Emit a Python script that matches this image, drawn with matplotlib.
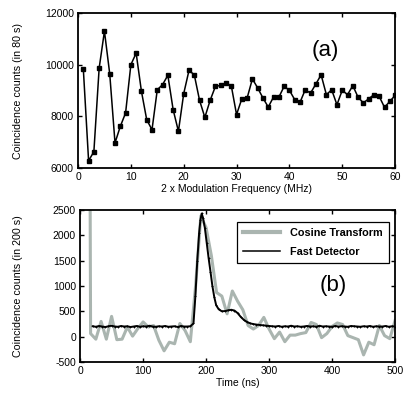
import numpy as np
import matplotlib
matplotlib.use("Agg")
import matplotlib.pyplot as plt

plt.rcParams['font.family'] = ['Liberation Sans', 'DejaVu Sans']
plt.rcParams['axes.unicode_minus'] = False

# === data: panel (a) ===
freq = np.arange(1, 61)
counts_80s = [9850, 6280, 6630, 9870, 11300, 9650, 6970, 7610, 8130, 10000,
              10450, 8970, 7870, 7480, 9030, 9230, 9590, 8260, 7420, 8880,
              9780, 9610, 8620, 7960, 8620, 9160, 9200, 9290, 9190, 8070,
              8680, 8710, 9450, 9100, 8710, 8360, 8750, 8740, 9160, 9010,
              8650, 8540, 9030, 8900, 9250, 9610, 8840, 9030, 8450, 9010,
              8840, 9190, 8740, 8520, 8680, 8840, 8770, 8350, 8580, 8810]

# === data: panel (b) ===
cos_t = np.arange(1, 61) * (500 / 60)
cos_v = [30000, 60, -50, 300, -50, 400, -60, -50, 190, 10,
         160, 290, 190, 220, -70, -280, -110, -140, 260, 120,
         -100, 1000, 2380, 2150, 1600, 870, 800, 450, 900, 700,
         530, 220, 150, 220, 380, 150, -40, 90, -100, 30,
         30, 60, 80, 280, 240, -20, 60, 200, 270, 240,
         20, -20, -60, -360, -110, -160, 220, 20, -40, 320]

fast_t_base1 = np.arange(20, 180, 5)
fast_v_base1 = [205, 195, 210, 200, 190, 205, 215, 200, 195, 210,
                200, 205, 190, 200, 210, 195, 205, 200, 215, 200,
                195, 205, 200, 210, 195, 200, 205, 190, 210, 200,
                200, 205]
fast_t_peak = [180, 183, 186, 189, 191, 193, 195, 198, 201, 204,
               207, 210, 213, 216, 220, 225, 230, 235, 240, 245,
               250, 255, 260, 265, 270, 275, 280, 285, 290, 295]
fast_v_peak = [260, 800, 1500, 2050, 2300, 2430, 2350, 2150, 1850, 1550,
               1280, 1000, 780, 620, 540, 500, 505, 520, 530, 515,
               465, 390, 330, 290, 262, 248, 238, 230, 224, 218]
fast_t_base2 = np.arange(300, 501, 5)
fast_v_base2 = [210, 205, 200, 210, 195, 205, 200, 215, 200, 205,
                195, 200, 210, 200, 205, 195, 215, 200, 205, 200,
                195, 210, 200, 205, 200, 195, 210, 205, 200, 195,
                205, 200, 210, 195, 205, 200, 200, 210, 195, 205,
                200]

fast_t = np.concatenate([fast_t_base1, fast_t_peak, fast_t_base2])
fast_v = np.concatenate([fast_v_base1, fast_v_peak, fast_v_base2])

GRAY = '#aab5b0'


def style_axes(ax):
    ax.tick_params(direction='in', top=True, right=True, labelsize=7.5,
                   length=3, width=1, pad=3)
    for s in ax.spines.values():
        s.set_linewidth(1.3)


fig = plt.figure(figsize=(4.15, 3.98), dpi=100)

# --- (a) ---
ax1 = fig.add_axes([0.188, 0.578, 0.764, 0.389])
ax1.plot(freq, counts_80s, color='black', lw=1.1, marker='s', ms=3.3)
ax1.set_xlim(0, 60)
ax1.set_ylim(6000, 12000)
ax1.set_xticks(range(0, 61, 10))
ax1.set_yticks(range(6000, 12001, 2000))
ax1.set_xlabel('2 x Modulation Frequency (MHz)', fontsize=7.5, labelpad=1)
ax1.set_ylabel('Coincidence counts (in 80 s)', fontsize=7.7)
ax1.yaxis.set_label_coords(-0.175, 0.5)
ax1.text(0.78, 0.76, '(a)', transform=ax1.transAxes, fontsize=16,
         ha='center', va='center')
style_axes(ax1)

# --- (b) ---
ax2 = fig.add_axes([0.193, 0.0905, 0.759, 0.382])
ax2.plot(cos_t, cos_v, color=GRAY, lw=2.2, label='Cosine Transform')
ax2.plot(fast_t, fast_v, color='black', lw=1.4, marker='+', ms=2,
         mew=0.6, label='Fast Detector')
ax2.set_xlim(0, 500)
ax2.set_ylim(-500, 2500)
ax2.set_xticks(range(0, 501, 100))
ax2.set_yticks(range(-500, 2501, 500))
ax2.set_xlabel('Time (ns)', fontsize=7.5, labelpad=1)
ax2.set_ylabel('Coincidence counts (in 200 s)', fontsize=7.7)
ax2.yaxis.set_label_coords(-0.18, 0.5)
ax2.text(0.804, 0.50, '(b)', transform=ax2.transAxes, fontsize=16,
         ha='center', va='center')
leg = ax2.legend(loc='upper right', bbox_to_anchor=(0.997, 0.958),
                 fancybox=False, edgecolor='black', framealpha=1,
                 prop={'weight': 'bold', 'size': 7.8},
                 handlelength=3.4, borderpad=0.6, labelspacing=0.8,
                 handletextpad=0.9)
leg.get_frame().set_linewidth(0.9)
leg.get_lines()[0].set_linewidth(3)
leg.get_lines()[1].set_marker('')
leg.get_lines()[1].set_linewidth(1.1)
style_axes(ax2)

fig.savefig('out.png', dpi=100)
